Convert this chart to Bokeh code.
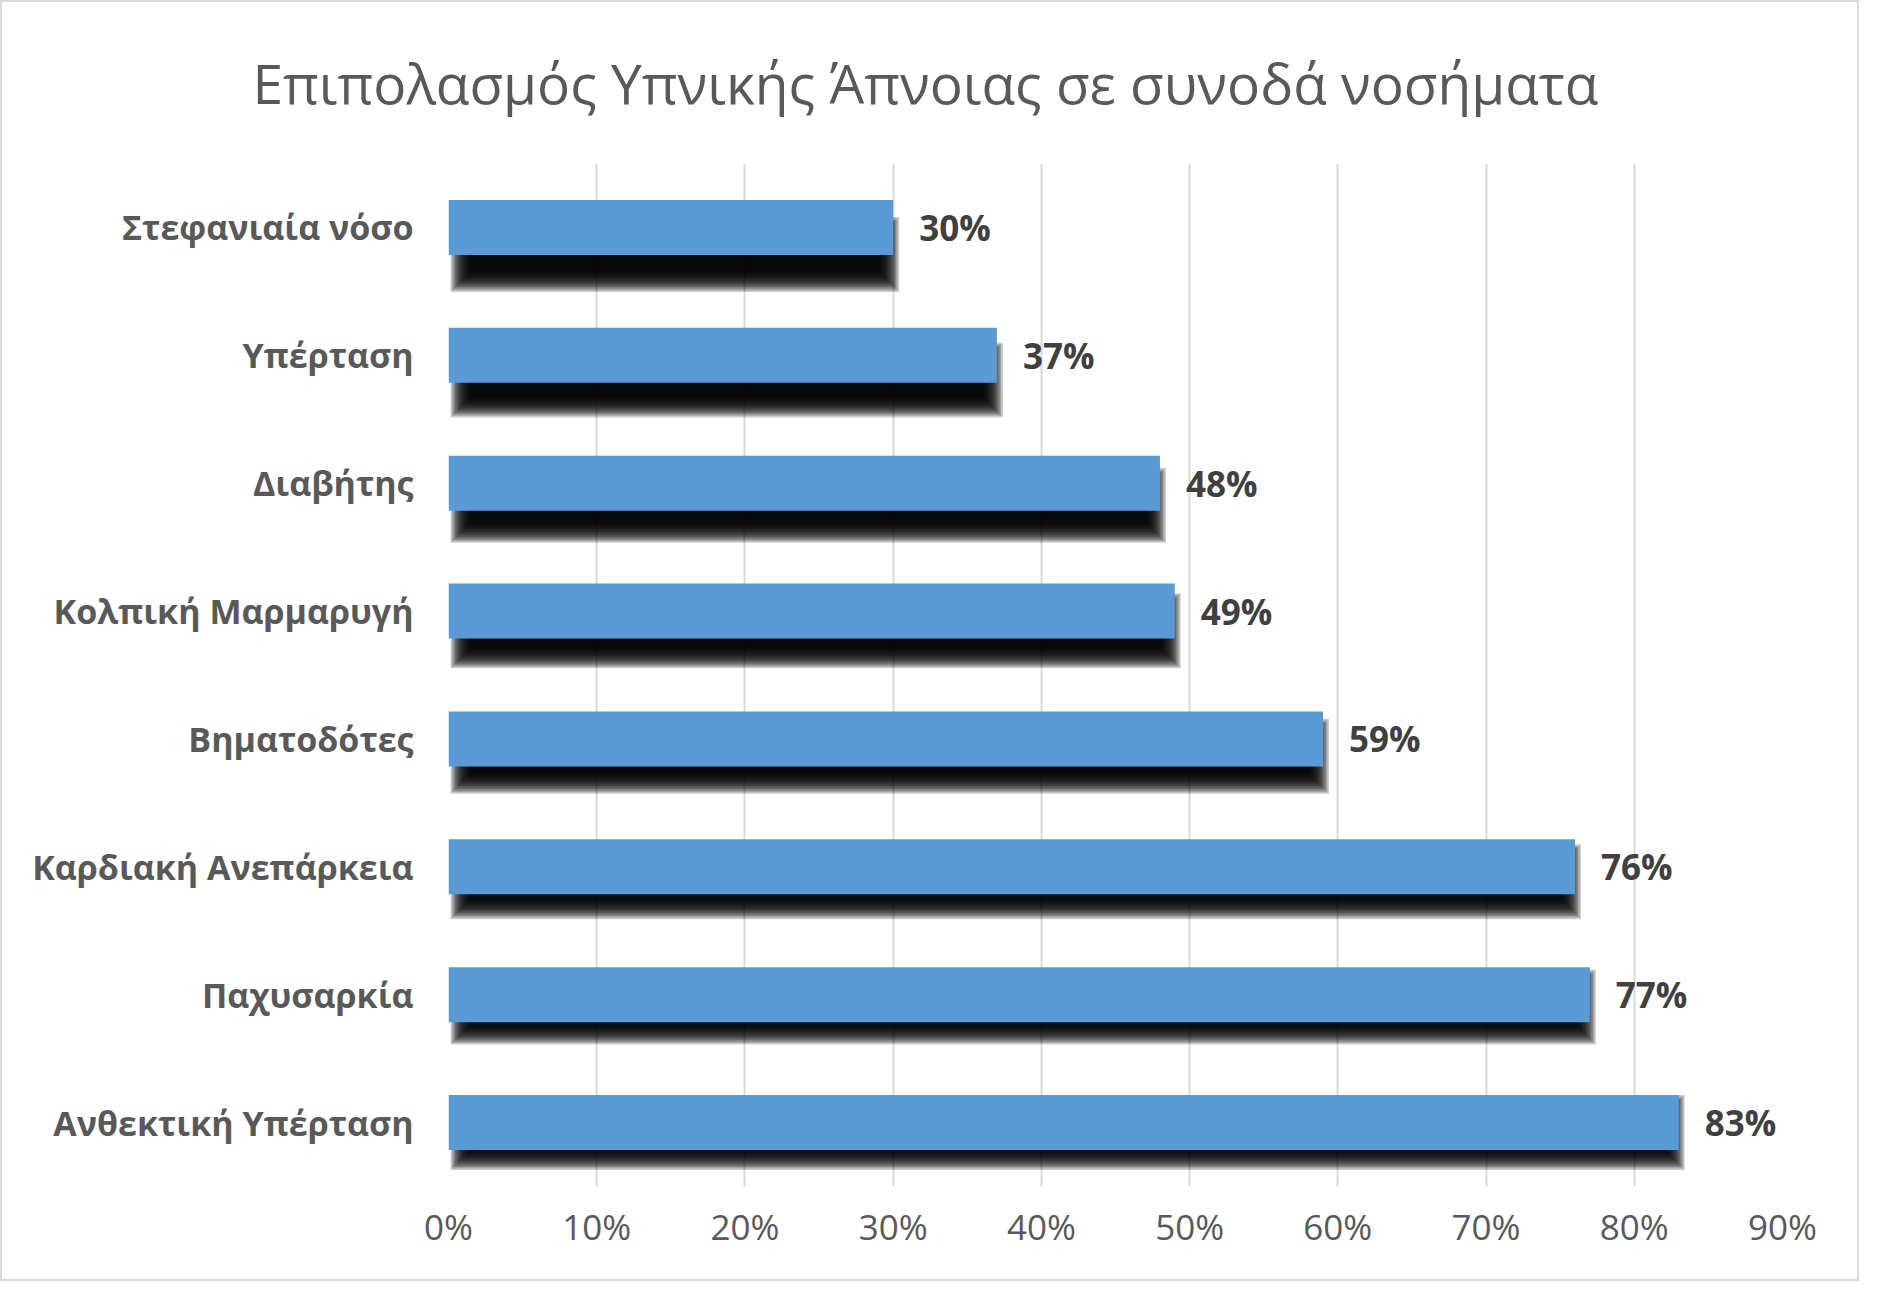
import numpy as np
from bokeh.plotting import figure
from bokeh.models import FactorRange, FixedTicker, NumeralTickFormatter, ColumnDataSource
from bokeh.core.properties import value
from bokeh.embed import file_html
from bokeh.resources import INLINE

# ---- data ----
title_text = "Επιπολασμός Υπνικής Άπνοιας σε συνοδά νοσήματα"
categories = ["Στεφανιαία νόσο", "Υπέρταση", "Διαβήτης", "Κολπική Μαρμαρυγή",
              "Βηματοδότες", "Καρδιακή Ανεπάρκεια", "Παχυσαρκία", "Ανθεκτική Υπέρταση"]
values = [0.30, 0.37, 0.48, 0.49, 0.59, 0.76, 0.77, 0.83]
tick_values = [0.0, 0.1, 0.2, 0.3, 0.4, 0.5, 0.6, 0.7, 0.8, 0.9]

# ---- layout ----
W, H = 1859, 1281
FL, FT = 446, 161
FW, FH = 1334, 1023
XMAX = 0.9
n = len(categories)
px_x = FW / XMAX      # px per data unit (x)
px_y = FH / n         # px per category
BAR_H = 0.43
FONT = "Open Sans"
BLUE = "#5B9BD5"
TITLE_W = 1359        # approximate rendered width of the title

p = figure(width=W, height=H, output_backend="svg", toolbar_location=None,
           y_range=FactorRange(factors=categories[::-1]),
           x_range=(0, XMAX),
           min_border_left=FL, min_border_top=FT,
           min_border_right=W - FL - FW, min_border_bottom=H - FT - FH,
           background_fill_color="white", border_fill_color="white")
p.styles = {"border": "2px solid #d9d9d9"}
p.outline_line_color = None

p.title.text = title_text
p.title.align = "left"
p.title.vertical_align = "top"
p.title.offset = (W - TITLE_W) / 2 - FL
p.title.standoff = 84
p.title.text_font = FONT
p.title.text_font_style = "normal"
p.title.text_font_size = "55px"
p.title.text_color = "#595959"

# ---- shadows (soft, drawn as stacked translucent rects) ----
sh_left, sh_right, sh_y, sh_h = [], [], [], []
for i, (c, v) in enumerate(zip(categories, values)):
    off_px = 27 - 17 * i / (n - 1)   # shadow drop grows towards the top
    for d in np.linspace(-10, 10, 14):
        sh_left.append(12 / px_x - d / px_x)
        sh_right.append(v - 4 / px_x + d / px_x)
        sh_y.append((c, -off_px / px_y))
        sh_h.append(BAR_H + 2 * d / px_y)
src_sh = ColumnDataSource(dict(left=sh_left, right=sh_right, y=sh_y, h=sh_h))
p.hbar(y="y", left="left", right="right", height="h", source=src_sh,
       fill_color="black", fill_alpha=0.2, line_color=None)

# ---- bars ----
src = ColumnDataSource(dict(cat=categories, val=values,
                            lbl=[f"{round(v * 100)}%" for v in values]))
p.hbar(y="cat", left=0, right="val", height=BAR_H, source=src,
       fill_color=BLUE, line_color=None)

p.text(x="val", y="cat", text="lbl", source=src, x_offset=26,
       text_baseline="middle", text_align="left",
       text_font=value(FONT), text_font_style="bold",
       text_font_size=value("35px"), text_color="#404040")

# ---- axes & grid ----
p.xaxis.ticker = FixedTicker(ticks=tick_values)
p.xaxis.formatter = NumeralTickFormatter(format="0%")
p.xaxis.axis_line_color = None
p.xaxis.major_tick_line_color = None
p.xaxis.minor_tick_line_color = None
p.xaxis.major_tick_out = 0
p.xaxis.minor_tick_out = 0
p.xaxis.major_label_text_font = FONT
p.xaxis.major_label_text_font_size = "35px"
p.xaxis.major_label_text_color = "#595959"
p.xaxis.major_label_standoff = 16

p.yaxis.axis_line_color = None
p.yaxis.major_tick_line_color = None
p.yaxis.minor_tick_line_color = None
p.yaxis.major_tick_out = 0
p.yaxis.minor_tick_out = 0
p.yaxis.major_label_text_font = FONT
p.yaxis.major_label_text_font_style = "bold"
p.yaxis.major_label_text_font_size = "34px"
p.yaxis.major_label_text_color = "#595959"
p.yaxis.major_label_standoff = 35

p.xgrid.ticker = FixedTicker(ticks=tick_values)
p.xgrid.grid_line_color = "#d9d9d9"
p.xgrid.grid_line_width = 2
p.ygrid.grid_line_color = None

open("out.html", "w").write(file_html(p, INLINE))
